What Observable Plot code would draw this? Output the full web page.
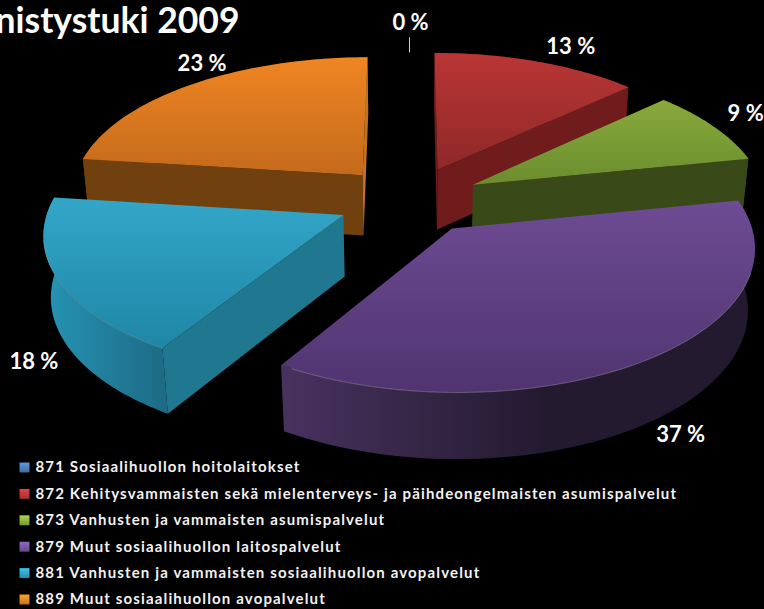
<!DOCTYPE html>
<html>
<head>
<meta charset="utf-8">
<script src="https://cdn.jsdelivr.net/npm/d3@7"></script>
<script src="https://cdn.jsdelivr.net/npm/@observablehq/plot@0.6"></script>
<style>
html,body{margin:0;padding:0;background:#000;overflow:hidden}
.leg text{letter-spacing:1.15px}
</style>
</head>
<body>
<div id="chart"></div>
<script>
// ---- data ----
const categories = [
  "871 Sosiaalihuollon hoitolaitokset",
  "872 Kehitysvammaisten sekä mielenterveys- ja päihdeongelmaisten asumispalvelut",
  "873 Vanhusten ja vammaisten asumispalvelut",
  "879 Muut sosiaalihuollon laitospalvelut",
  "881 Vanhusten ja vammaisten sosiaalihuollon avopalvelut",
  "889 Muut sosiaalihuollon avopalvelut"
];
const values = [0, 13, 8.8, 37, 18.2, 23];
const titleText = "nistystuki 2009";

// ---- styles ----
const topColors  = [["#5b8fcb","#3f72ac"],["#ba3635","#8e2828"],["#88aa3a","#6b8d2f"],["#6e4c94","#4f3470"],["#33a6c8","#1f86a6"],["#f08522","#c46a1c"]];
const arcColors  = [["#2c4f78","#2c4f78"],["#6b1a1a","#6b1a1a"],["#394a18","#394a18"],["#48325f","#241a30"],["#2694b4","#1d6a84"],["#70400f","#70400f"]];
const arcDarkAt  = [1, 1, 1, 0.55, 1, 1];
const startSide  = ["#2c4f78","#701c1c","#394a18","#332440","#1f7890","#70400f"];
const endSide    = ["#2c4f78","#701c1c","#394a18","#332440","#1f7890","#c07420"];
const legendColors = ["#4f81bd","#c0393b","#8eb43e","#7a57a6","#2fa8c9","#ee8a26"];
const labelNudge = [[1,0],[18,2],[-7,-3],[-5,50],[29,71],[37,-6]];
const drawOrder = [0,5,1,2,4,3];

// ---- projection of the exploded tilted pie ----
const cx = 409, cy = 199.6, A = 293, B = 137.3, P = 0.118, H = 61, EXPLODE = 0.247;
function project(u, v, z = 0) {
  const w = 1 + P * v;
  return {
    x: cx + A * u / (w + 0.02 * z),
    y: cy - B * v / w + H * z / (1 + 0.07 * v)
  };
}
const rad = d => d * Math.PI / 180;
const total = d3.sum(values);
let acc = 0;
const slices = values.map((v, i) => {
  const a0 = acc / total * 360;
  acc += v;
  const a1 = acc / total * 360;
  const mid = (a0 + a1) / 2;
  const ex = EXPLODE * Math.sin(rad(mid)), ey = EXPLODE * Math.cos(rad(mid));
  const at = (a, z) => project(ex + Math.sin(rad(a)), ey + Math.cos(rad(a)), z);
  const tip = z => project(ex, ey, z);
  const arc = z => d3.range(0, 61).map(k => at(a0 + (a1 - a0) * k / 60, z));
  return {i, v, a0, a1, mid, at, tip, arc};
});

function radialVisible(T, Q, C) {
  const ex = Q.x - T.x, ey = Q.y - T.y;
  const down = ex;                                   // cross(edge, (0,1))
  const inner = ex * (C.y - T.y) - ey * (C.x - T.x); // cross(edge, interior)
  return down * inner < 0;
}

const marks = [];
const face = (pts, fill) => Plot.line(pts, {x: "x", y: "y", fill, stroke: "none", curve: "linear"});

for (const idx of drawOrder) {
  const s = slices[idx];
  if (s.v === 0) continue;
  const topArc = s.arc(0), botArc = s.arc(1);
  marks.push(face([...topArc, ...botArc.slice().reverse()], `url(#arc${idx})`));
  const C = s.at(s.mid, 0), T = s.tip(0), Tb = s.tip(1);
  for (const [a, color] of [[s.a0, startSide[idx]], [s.a1, endSide[idx]]]) {
    const Q = s.at(a, 0);
    if (radialVisible(T, Q, C)) marks.push(face([T, Q, s.at(a, 1), Tb], color));
  }
  marks.push(face([T, ...topArc], `url(#top${idx})`));
  if (idx === 3 || idx === 4) {
    const front = topArc.filter((p, k) => k < 60 && (idx === 3 ? k > 12 : k < 45));
    marks.push(Plot.line(front, {x: "x", y: "y", stroke: "#ffffff", strokeOpacity: idx === 3 ? 0.25 : 0.2, strokeWidth: 1, curve: "linear"}));
  }
}

// percentage labels, placed around the pie by each slice's mid-angle
const labels = slices.map(s => {
  const r = s.i === 0 ? 1.526 : 1.42;
  const p = project(r * Math.sin(rad(s.mid)), r * Math.cos(rad(s.mid)));
  return {x: p.x + labelNudge[s.i][0], y: p.y + labelNudge[s.i][1], text: `${Math.round(s.v)} %`};
});
marks.push(Plot.line([project(0, 1.375), project(0, 1.235)], {x: "x", y: "y", stroke: "#cfcfcf", strokeWidth: 1}));
marks.push(Plot.text(labels, {x: "x", y: "y", text: "text", fill: "white", fontSize: 22, fontWeight: 700, fontFamily: "Lato", textAnchor: "middle"}));

// title
marks.push(Plot.text([titleText], {x: [-5], y: [21], text: d => d, fill: "white", fontSize: 35.5, fontWeight: 700, fontFamily: "Lato", textAnchor: "start"}));

// legend
const legendRows = categories.map((name, i) => ({name, i, row: 467 + i * 26.4}));
marks.push(Plot.dot(legendRows, {x: () => 24, y: "row", symbol: "square", r: 5.6, fill: {value: d => `url(#leg${d.i})`, scale: null}, stroke: "none"}));
marks.push(Plot.text(legendRows, {x: () => 35, y: "row", text: "name", fill: "#f2f2f2", fontSize: 15, fontWeight: 700, fontFamily: "Lato", textAnchor: "start", className: "leg"}));

const svg = Plot.plot({
  width: 764, height: 609, margin: 0,
  x: {domain: [0, 764], axis: null},
  y: {domain: [609, 0], axis: null},
  style: {background: "#000", color: "#fff"},
  marks
});

// gradients used by the marks above
const defs = d3.select(svg).insert("defs", ":first-child");
function grad(id, c0, c1, horizontal, darkAt = 1) {
  const g = defs.append("linearGradient").attr("id", id).attr("x1", 0).attr("y1", 0)
    .attr("x2", horizontal ? 1 : 0).attr("y2", horizontal ? 0 : 1);
  g.append("stop").attr("offset", 0).attr("stop-color", c0);
  g.append("stop").attr("offset", darkAt).attr("stop-color", c1);
}
topColors.forEach((c, i) => grad(`top${i}`, c[0], c[1], false));
arcColors.forEach((c, i) => grad(`arc${i}`, c[0], c[1], true, arcDarkAt[i]));
legendColors.forEach((c, i) => grad(`leg${i}`, d3.color(c).brighter(0.5).formatHex(), d3.color(c).darker(0.5).formatHex(), false));

document.getElementById("chart").appendChild(svg);
</script>
</body>
</html>
